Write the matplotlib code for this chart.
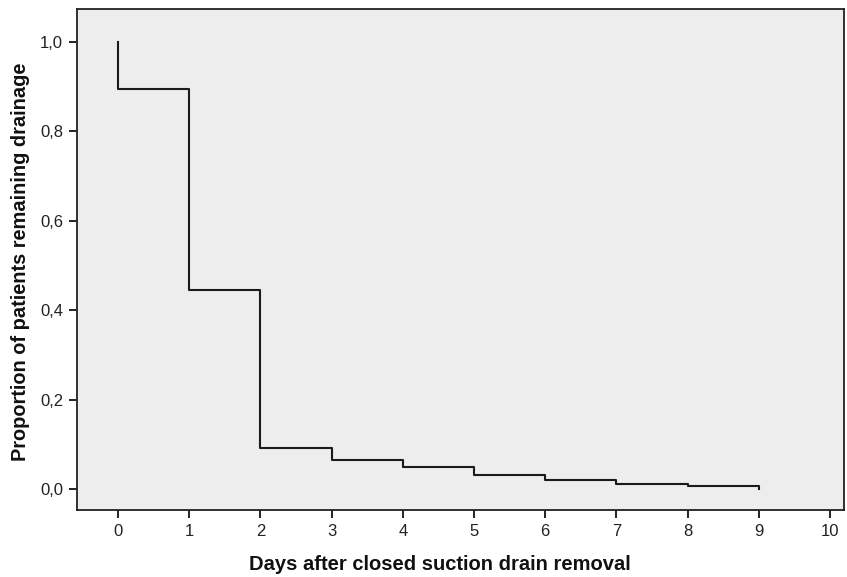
import matplotlib
matplotlib.use("Agg")
import matplotlib.pyplot as plt
from matplotlib import font_manager as fm

# Data (Kaplan-Meier style step curve)
days = [0, 0, 1, 2, 3, 4, 5, 6, 7, 8, 9]
proportion = [1.0, 0.896, 0.446, 0.092, 0.064, 0.049, 0.031, 0.019, 0.011, 0.0074, 0.0]
x_ticks = list(range(0, 11))
y_ticks = [0.0, 0.2, 0.4, 0.6, 0.8, 1.0]
y_ticklabels = ["0,0", "0,2", "0,4", "0,6", "0,8", "1,0"]
x_label = "Days after closed suction drain removal"
y_label = "Proportion of patients remaining drainage"

names = {f.name for f in fm.fontManager.ttflist}
narrow = "Liberation Sans Narrow" if "Liberation Sans Narrow" in names else "Liberation Sans"

fig = plt.figure(figsize=(8.47, 5.77), dpi=100)
ax = fig.add_axes([77/847, 1-510.3/577, (844.3-77)/847, (510.3-9)/577])
ax.set_facecolor("#ECEDEC")

ax.plot(days, proportion, drawstyle="steps-post", color="#1a1a1a", lw=1.5)

ax.set_xlim(-0.576, 10.2)
ax.set_ylim(-0.0477, 1.074)
ax.set_xticks(x_ticks)
ax.set_xticklabels([str(t) for t in x_ticks], fontfamily=narrow, fontsize=12, color="#222222")
ax.set_yticks(y_ticks)
ax.set_yticklabels(y_ticklabels, fontfamily=narrow, fontsize=12, color="#222222")
ax.tick_params(direction="out", length=6, width=1.3, color="#111111", pad=4)
for s in ax.spines.values():
    s.set_linewidth(1.3)
    s.set_color("#222222")

fig.text(440/847, 1-565/577, x_label, ha="center", va="center",
         fontfamily=narrow, fontweight="bold", fontsize=14.5, color="#111111")
fig.text(21/847, 1-262/577, y_label, ha="center", va="center", rotation=90,
         fontfamily="Liberation Sans", fontweight="bold", fontsize=14.4, color="#111111")

fig.savefig("out.png", dpi=100, facecolor="white")
